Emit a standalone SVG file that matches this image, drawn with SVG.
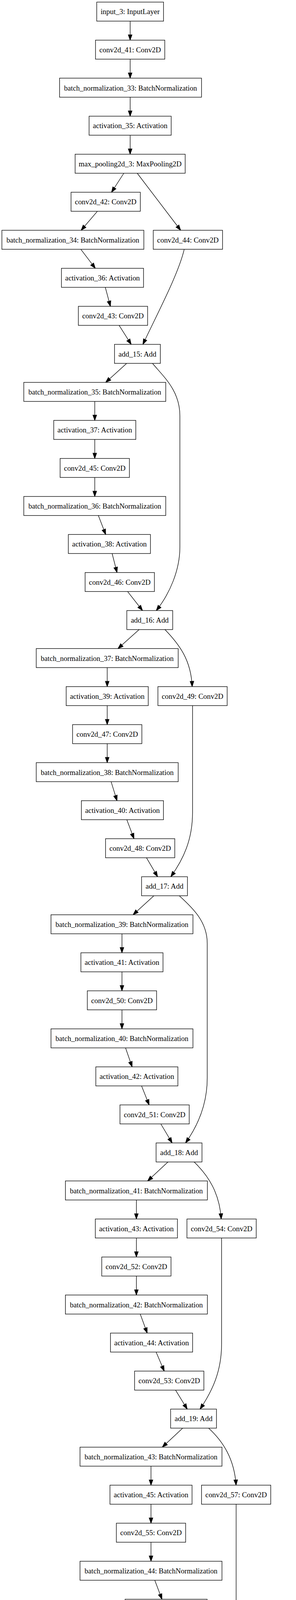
<svg xmlns="http://www.w3.org/2000/svg" width="759" height="5900" viewBox="0 0 759 5900">
<style>
.n rect{fill:#fff;stroke:#000;stroke-width:1.35}
.n text{font-family:"Liberation Serif","Times New Roman",serif;font-size:18.9px;text-anchor:middle;fill:#000}
.e path{fill:none;stroke:#000;stroke-width:1.35;marker-end:url(#a)}
</style>
<defs>
<marker id="a" markerUnits="userSpaceOnUse" markerWidth="13.5" markerHeight="9.5" viewBox="0 0 13.5 9.5" refX="13.5" refY="4.75" orient="auto" overflow="visible">
<path d="M0,0 L13.5,4.75 L0,9.5 z" fill="#000" stroke="#000" stroke-width="1.35"/>
</marker>
</defs>
<rect width="759" height="5900" fill="#fff"/>
<g id="connectors" class="e">
<path d="M333.7,54.1 V102.75"/>
<path d="M333.7,151.45 V200.1"/>
<path d="M333.7,248.8 V297.45"/>
<path d="M333.7,346.15 V394.8"/>
<path d="M317.5,443.5 L286,492.15"/>
<path d="M351.9,443.5 L463.2,589.5"/>
<path d="M249.7,540.85 L208.1,589.5"/>
<path d="M207.2,638.2 L244.4,686.85"/>
<path d="M270,735.55 L283.1,784.2"/>
<path d="M305.4,832.9 L336.4,881.55"/>
<path d="M472.4,638.2 C458,700 405,800 366.4,881.55"/>
<path d="M324.8,930.25 L271,978.9"/>
<path d="M391,930.25 C420,965 461.3,1000 461.3,1065 L461.3,1400 C461.3,1460 435,1520 400.8,1563"/>
<path d="M243,1027.6 V1076.25"/>
<path d="M243,1124.95 V1173.6"/>
<path d="M243,1222.3 V1270.95"/>
<path d="M252.2,1319.65 L271,1368.3"/>
<path d="M287.5,1417 L300,1465.65"/>
<path d="M327.2,1514.35 L365.4,1563"/>
<path d="M356.7,1611.7 L302.5,1660.35"/>
<path d="M423,1611.7 C460,1650 490,1690 492.7,1757.7"/>
<path d="M274.9,1709.05 V1757.7"/>
<path d="M274.9,1806.4 V1855.05"/>
<path d="M274.9,1903.75 V1952.4"/>
<path d="M493.7,1806.4 V2080 C493.7,2150 470,2200 438,2244.45"/>
<path d="M284.9,2001.1 L300,2049.75"/>
<path d="M325.2,2098.45 L343.6,2147.1"/>
<path d="M375.6,2195.8 L404.1,2244.45"/>
<path d="M394.5,2293.15 L341.2,2341.8"/>
<path d="M459.8,2293.15 C495,2325 531.4,2360 531.4,2415 V2760 C531.4,2830 505,2885 475.8,2925.9"/>
<path d="M312.7,2390.5 V2439.15"/>
<path d="M312.7,2487.85 V2536.5"/>
<path d="M312.7,2585.2 V2633.85"/>
<path d="M321.9,2682.55 L338.8,2731.2"/>
<path d="M363,2779.9 L382.4,2828.55"/>
<path d="M412.4,2877.25 L441.4,2925.9"/>
<path d="M430.8,2974.6 L378.5,3023.25"/>
<path d="M497.6,2974.6 C535,3010 563,3055 567.2,3120.6"/>
<path d="M349.7,3071.95 V3120.6"/>
<path d="M349.7,3169.3 V3217.95"/>
<path d="M349.7,3266.65 V3315.3"/>
<path d="M568.2,3169.3 V3440 C568.2,3510 545,3560 513,3607.35"/>
<path d="M359.6,3364 L377.5,3412.65"/>
<path d="M400.3,3461.35 L421.1,3510"/>
<path d="M450.1,3558.7 L480.1,3607.35"/>
<path d="M468.5,3656.05 L416.2,3704.7"/>
<path d="M534.8,3656.05 C572,3690 601,3735 605.3,3802.05"/>
<path d="M387.2,3753.4 V3802.05"/>
<path d="M387.2,3850.75 V3899.4"/>
<path d="M387.2,3948.1 V3996.75"/>
<path d="M605.5,3850.75 V4125 C605.5,4195 583,4245 550.8,4288.8"/>
<path d="M396.9,4045.45 L415.3,4094.1"/>
<path d="M438,4142.8 L458.4,4191.45"/>
<path d="M487.4,4240.15 L516.9,4288.8"/>
<path d="M505.8,4337.5 L453.5,4386.15"/>
<path d="M572.6,4337.5 C610,4370 642.8,4410 642.8,4470 V4805 C642.8,4875 617,4925 588,4970.25"/>
<path d="M424.5,4434.85 V4483.5"/>
<path d="M424.5,4532.2 V4580.85"/>
<path d="M424.5,4629.55 V4678.2"/>
<path d="M434.6,4726.9 L452.5,4775.55"/>
<path d="M475.3,4824.25 L496.1,4872.9"/>
<path d="M525.1,4921.6 L554.2,4970.25"/>
<path d="M571.4,5018.95 V5067.6"/>
<path d="M571.4,5116.3 V5164.95"/>
<path d="M571.4,5213.65 V5262.3"/>
<path d="M571.4,5311 V5359.65"/>
<path d="M571.4,5408.35 V5457"/>
<path d="M571.4,5505.7 V5554.35"/>
<path d="M571.4,5603.05 V5651.7"/>
<path d="M571.4,5700.4 V5749.05"/>
<path d="M571.4,5797.75 V5846.4"/>
</g>
<g id="input_3" class="n"><rect x="248.05" y="5.4" width="171.3" height="48.7"/><text x="333.7" y="36.4">input_3: InputLayer</text></g>
<g id="conv2d_41" class="n"><rect x="244.9" y="102.75" width="177.6" height="48.7"/><text x="333.7" y="133.75">conv2d_41: Conv2D</text></g>
<g id="batch_normalization_33" class="n"><rect x="152.7" y="200.1" width="364" height="48.7"/><text x="334.7" y="231.5" textLength="340.7" lengthAdjust="spacingAndGlyphs">batch_normalization_33: BatchNormalization</text></g>
<g id="activation_35" class="n"><rect x="228.45" y="297.45" width="210.5" height="48.7"/><text x="333.7" y="328.45">activation_35: Activation</text></g>
<g id="max_pooling2d_3" class="n"><rect x="192.6" y="394.8" width="282.2" height="48.7"/><text x="333.7" y="425.8">max_pooling2d_3: MaxPooling2D</text></g>
<g id="conv2d_42" class="n"><rect x="182.2" y="492.15" width="177.6" height="48.7"/><text x="271" y="523.15">conv2d_42: Conv2D</text></g>
<g id="batch_normalization_34" class="n"><rect x="4.8" y="589.5" width="364" height="48.7"/><text x="186.8" y="620.9" textLength="340.7" lengthAdjust="spacingAndGlyphs">batch_normalization_34: BatchNormalization</text></g>
<g id="conv2d_44" class="n"><rect x="393" y="589.5" width="177.6" height="48.7"/><text x="481.8" y="620.5">conv2d_44: Conv2D</text></g>
<g id="activation_36" class="n"><rect x="157.55" y="686.85" width="210.5" height="48.7"/><text x="262.8" y="717.85">activation_36: Activation</text></g>
<g id="conv2d_43" class="n"><rect x="200.9" y="784.2" width="177.6" height="48.7"/><text x="289.7" y="815.2">conv2d_43: Conv2D</text></g>
<g id="add_15" class="n"><rect x="293.6" y="881.55" width="117.6" height="48.7"/><text x="352.4" y="912.55">add_15: Add</text></g>
<g id="batch_normalization_35" class="n"><rect x="61" y="978.9" width="364" height="48.7"/><text x="243" y="1010.3" textLength="340.7" lengthAdjust="spacingAndGlyphs">batch_normalization_35: BatchNormalization</text></g>
<g id="activation_37" class="n"><rect x="137.75" y="1076.25" width="210.5" height="48.7"/><text x="243" y="1107.25">activation_37: Activation</text></g>
<g id="conv2d_45" class="n"><rect x="154.2" y="1173.6" width="177.6" height="48.7"/><text x="243" y="1204.6">conv2d_45: Conv2D</text></g>
<g id="batch_normalization_36" class="n"><rect x="61" y="1270.95" width="364" height="48.7"/><text x="243" y="1302.35" textLength="340.7" lengthAdjust="spacingAndGlyphs">batch_normalization_36: BatchNormalization</text></g>
<g id="activation_38" class="n"><rect x="175.25" y="1368.3" width="210.5" height="48.7"/><text x="280.5" y="1399.3">activation_38: Activation</text></g>
<g id="conv2d_46" class="n"><rect x="218.3" y="1465.65" width="177.6" height="48.7"/><text x="307.1" y="1496.65">conv2d_46: Conv2D</text></g>
<g id="add_16" class="n"><rect x="325.2" y="1563" width="117.6" height="48.7"/><text x="384" y="1594">add_16: Add</text></g>
<g id="batch_normalization_37" class="n"><rect x="92.9" y="1660.35" width="364" height="48.7"/><text x="274.9" y="1691.75" textLength="340.7" lengthAdjust="spacingAndGlyphs">batch_normalization_37: BatchNormalization</text></g>
<g id="activation_39" class="n"><rect x="169.65" y="1757.7" width="210.5" height="48.7"/><text x="274.9" y="1788.7">activation_39: Activation</text></g>
<g id="conv2d_49" class="n"><rect x="404.9" y="1757.7" width="177.6" height="48.7"/><text x="493.7" y="1788.7">conv2d_49: Conv2D</text></g>
<g id="conv2d_47" class="n"><rect x="186.1" y="1855.05" width="177.6" height="48.7"/><text x="274.9" y="1886.05">conv2d_47: Conv2D</text></g>
<g id="batch_normalization_38" class="n"><rect x="92.9" y="1952.4" width="364" height="48.7"/><text x="274.9" y="1983.8" textLength="340.7" lengthAdjust="spacingAndGlyphs">batch_normalization_38: BatchNormalization</text></g>
<g id="activation_40" class="n"><rect x="208.65" y="2049.75" width="210.5" height="48.7"/><text x="313.9" y="2080.75">activation_40: Activation</text></g>
<g id="conv2d_48" class="n"><rect x="270.6" y="2147.1" width="177.6" height="48.7"/><text x="359.4" y="2178.1">conv2d_48: Conv2D</text></g>
<g id="add_17" class="n"><rect x="363" y="2244.45" width="117.6" height="48.7"/><text x="421.8" y="2275.45">add_17: Add</text></g>
<g id="batch_normalization_39" class="n"><rect x="130.7" y="2341.8" width="364" height="48.7"/><text x="312.7" y="2373.2" textLength="340.7" lengthAdjust="spacingAndGlyphs">batch_normalization_39: BatchNormalization</text></g>
<g id="activation_41" class="n"><rect x="207.45" y="2439.15" width="210.5" height="48.7"/><text x="312.7" y="2470.15">activation_41: Activation</text></g>
<g id="conv2d_50" class="n"><rect x="223.9" y="2536.5" width="177.6" height="48.7"/><text x="312.7" y="2567.5">conv2d_50: Conv2D</text></g>
<g id="batch_normalization_40" class="n"><rect x="130.7" y="2633.85" width="364" height="48.7"/><text x="312.7" y="2665.25" textLength="340.7" lengthAdjust="spacingAndGlyphs">batch_normalization_40: BatchNormalization</text></g>
<g id="activation_42" class="n"><rect x="245.65" y="2731.2" width="210.5" height="48.7"/><text x="350.9" y="2762.2">activation_42: Activation</text></g>
<g id="conv2d_51" class="n"><rect x="307.6" y="2828.55" width="177.6" height="48.7"/><text x="396.4" y="2859.55">conv2d_51: Conv2D</text></g>
<g id="add_18" class="n"><rect x="400.3" y="2925.9" width="117.6" height="48.7"/><text x="459.1" y="2956.9">add_18: Add</text></g>
<g id="batch_normalization_41" class="n"><rect x="167.7" y="3023.25" width="364" height="48.7"/><text x="349.7" y="3054.65" textLength="340.7" lengthAdjust="spacingAndGlyphs">batch_normalization_41: BatchNormalization</text></g>
<g id="activation_43" class="n"><rect x="244.45" y="3120.6" width="210.5" height="48.7"/><text x="349.7" y="3151.6">activation_43: Activation</text></g>
<g id="conv2d_54" class="n"><rect x="479.4" y="3120.6" width="177.6" height="48.7"/><text x="568.2" y="3151.6">conv2d_54: Conv2D</text></g>
<g id="conv2d_52" class="n"><rect x="260.9" y="3217.95" width="177.6" height="48.7"/><text x="349.7" y="3248.95">conv2d_52: Conv2D</text></g>
<g id="batch_normalization_42" class="n"><rect x="167.7" y="3315.3" width="364" height="48.7"/><text x="349.7" y="3346.7" textLength="340.7" lengthAdjust="spacingAndGlyphs">batch_normalization_42: BatchNormalization</text></g>
<g id="activation_44" class="n"><rect x="283.35" y="3412.65" width="210.5" height="48.7"/><text x="388.6" y="3443.65">activation_44: Activation</text></g>
<g id="conv2d_53" class="n"><rect x="345.1" y="3510" width="177.6" height="48.7"/><text x="433.9" y="3541">conv2d_53: Conv2D</text></g>
<g id="add_19" class="n"><rect x="437.5" y="3607.35" width="117.6" height="48.7"/><text x="496.3" y="3638.35">add_19: Add</text></g>
<g id="batch_normalization_43" class="n"><rect x="205.2" y="3704.7" width="364" height="48.7"/><text x="387.2" y="3736.1" textLength="340.7" lengthAdjust="spacingAndGlyphs">batch_normalization_43: BatchNormalization</text></g>
<g id="activation_45" class="n"><rect x="281.95" y="3802.05" width="210.5" height="48.7"/><text x="387.2" y="3833.05">activation_45: Activation</text></g>
<g id="conv2d_57" class="n"><rect x="516.7" y="3802.05" width="177.6" height="48.7"/><text x="605.5" y="3833.05">conv2d_57: Conv2D</text></g>
<g id="conv2d_55" class="n"><rect x="298.4" y="3899.4" width="177.6" height="48.7"/><text x="387.2" y="3930.4">conv2d_55: Conv2D</text></g>
<g id="batch_normalization_44" class="n"><rect x="205.2" y="3996.75" width="364" height="48.7"/><text x="387.2" y="4028.15" textLength="340.7" lengthAdjust="spacingAndGlyphs">batch_normalization_44: BatchNormalization</text></g>
<g id="activation_46" class="n"><rect x="320.65" y="4094.1" width="210.5" height="48.7"/><text x="425.9" y="4125.1">activation_46: Activation</text></g>
<g id="conv2d_56" class="n"><rect x="382.4" y="4191.45" width="177.6" height="48.7"/><text x="471.2" y="4222.45">conv2d_56: Conv2D</text></g>
<g id="add_20" class="n"><rect x="474.8" y="4288.8" width="117.6" height="48.7"/><text x="533.6" y="4319.8">add_20: Add</text></g>
<g id="batch_normalization_45" class="n"><rect x="242.5" y="4386.15" width="364" height="48.7"/><text x="424.5" y="4417.55" textLength="340.7" lengthAdjust="spacingAndGlyphs">batch_normalization_45: BatchNormalization</text></g>
<g id="activation_47" class="n"><rect x="319.25" y="4483.5" width="210.5" height="48.7"/><text x="424.5" y="4514.5">activation_47: Activation</text></g>
<g id="conv2d_58" class="n"><rect x="335.7" y="4580.85" width="177.6" height="48.7"/><text x="424.5" y="4611.85">conv2d_58: Conv2D</text></g>
<g id="batch_normalization_46" class="n"><rect x="242.5" y="4678.2" width="364" height="48.7"/><text x="424.5" y="4709.6" textLength="340.7" lengthAdjust="spacingAndGlyphs">batch_normalization_46: BatchNormalization</text></g>
<g id="activation_48" class="n"><rect x="357.75" y="4775.55" width="210.5" height="48.7"/><text x="463" y="4806.55">activation_48: Activation</text></g>
<g id="conv2d_59" class="n"><rect x="419.4" y="4872.9" width="177.6" height="48.7"/><text x="508.2" y="4903.9">conv2d_59: Conv2D</text></g>
<g id="add_21" class="n"><rect x="512.6" y="4970.25" width="117.6" height="48.7"/><text x="571.4" y="5001.25">add_21: Add</text></g>
<g id="batch_normalization_47" class="n"><rect x="389.4" y="5067.6" width="364" height="48.7"/><text x="571.4" y="5099" textLength="340.7" lengthAdjust="spacingAndGlyphs">batch_normalization_47: BatchNormalization</text></g>
<g id="activation_49" class="n"><rect x="466.15" y="5164.95" width="210.5" height="48.7"/><text x="571.4" y="5195.95">activation_49: Activation</text></g>
<g id="conv2d_60" class="n"><rect x="482.6" y="5262.3" width="177.6" height="48.7"/><text x="571.4" y="5293.3">conv2d_60: Conv2D</text></g>
<g id="batch_normalization_48" class="n"><rect x="389.4" y="5359.65" width="364" height="48.7"/><text x="571.4" y="5391.05" textLength="340.7" lengthAdjust="spacingAndGlyphs">batch_normalization_48: BatchNormalization</text></g>
<g id="activation_50" class="n"><rect x="466.15" y="5457" width="210.5" height="48.7"/><text x="571.4" y="5488">activation_50: Activation</text></g>
<g id="average_pooling2d_3" class="n"><rect x="403.9" y="5554.35" width="335" height="48.7"/><text x="571.4" y="5585.35">average_pooling2d_3: AveragePooling2D</text></g>
<g id="flatten_3" class="n"><rect x="497.35" y="5651.7" width="148.1" height="48.7"/><text x="571.4" y="5682.7">flatten_3: Flatten</text></g>
<g id="dense_3" class="n"><rect x="501.9" y="5749.05" width="139" height="48.7"/><text x="571.4" y="5780.05">dense_3: Dense</text></g>
<g id="activation_51" class="n"><rect x="466.15" y="5846.4" width="210.5" height="48.7"/><text x="571.4" y="5877.4">activation_51: Activation</text></g>
</svg>
